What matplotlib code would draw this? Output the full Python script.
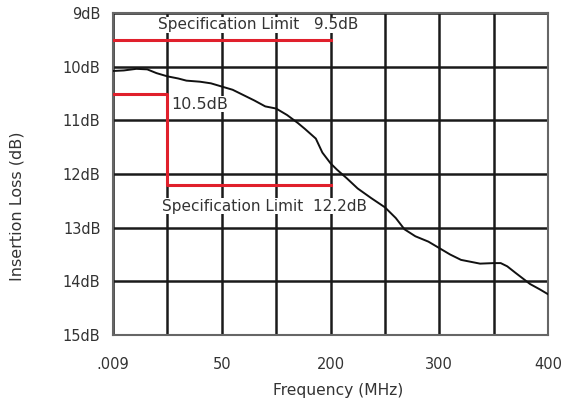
import matplotlib
matplotlib.use("Agg")
import matplotlib.pyplot as plt

# Data
x_tick_labels = [".009", "50", "200", "300", "400"]
x_tick_pos = [0, 2, 4, 6, 8]
y_ticks = [9, 10, 11, 12, 13, 14, 15]
y_tick_labels = ["9dB", "10dB", "11dB", "12dB", "13dB", "14dB", "15dB"]

curve_x = [0.0, 0.2, 0.43, 0.63, 0.8, 1.0, 1.2, 1.35, 1.6, 1.8, 2.0, 2.2, 2.4, 2.6, 2.8,
           3.0, 3.2, 3.4, 3.53, 3.73, 3.85, 4.0, 4.12, 4.3, 4.5, 4.75, 5.0, 5.2, 5.36,
           5.56, 5.8, 6.0, 6.2, 6.4, 6.6, 6.75, 7.0, 7.13, 7.25, 7.4, 7.67, 7.85, 8.0]
curve_y = [10.08, 10.07, 10.04, 10.05, 10.12, 10.18, 10.22, 10.26, 10.28, 10.31, 10.37,
           10.43, 10.53, 10.63, 10.74, 10.78, 10.9, 11.05, 11.16, 11.34, 11.6, 11.8,
           11.92, 12.08, 12.27, 12.45, 12.62, 12.82, 13.03, 13.16, 13.26, 13.38, 13.5,
           13.6, 13.64, 13.67, 13.66, 13.66, 13.72, 13.84, 14.05, 14.15, 14.24]

spec_upper_x = [0, 4]
spec_upper_y = [9.5, 9.5]
spec_lower_x = [0, 1, 1, 4]
spec_lower_y = [10.5, 10.5, 12.2, 12.2]

fig = plt.figure(figsize=(5.63, 4.03), dpi=100)
ax = fig.add_axes([0.2007, 0.1687, 0.7727, 0.799])

ax.set_xlim(0, 8)
ax.set_ylim(15, 9)

for gx in range(0, 9):
    ax.axvline(gx, color="#1a1a1a", lw=1.8, zorder=1)
for gy in y_ticks:
    ax.axhline(gy, color="#1a1a1a", lw=1.8, zorder=1)

ax.plot(curve_x, curve_y, color="#111111", lw=1.4, zorder=3)
ax.plot(spec_upper_x, spec_upper_y, color="#e0202c", lw=2.2, zorder=4)
ax.plot(spec_lower_x, spec_lower_y, color="#e0202c", lw=2.2, zorder=4)

txt_color = "#333333"
ax.text(0.82, 9.22, "Specification Limit   9.5dB", fontsize=11, color=txt_color,
        va="center", ha="left", zorder=5,
        bbox=dict(facecolor="white", edgecolor="none", pad=0.5))
ax.text(1.08, 10.7, "10.5dB", fontsize=11.5, color=txt_color, va="center", ha="left",
        zorder=5, bbox=dict(facecolor="white", edgecolor="none", pad=0.5))
ax.text(0.9, 12.6, "Specification Limit  12.2dB", fontsize=11, color=txt_color,
        va="center", ha="left", zorder=5,
        bbox=dict(facecolor="white", edgecolor="none", pad=0.5))

ax.set_xticks(x_tick_pos)
ax.set_xticklabels(x_tick_labels)
ax.set_yticks(y_ticks)
ax.set_yticklabels(y_tick_labels)
ax.tick_params(axis="both", length=0, labelsize=10.5, labelcolor=txt_color)
ax.tick_params(axis="y", pad=9)
ax.tick_params(axis="x", pad=16)

for s in ax.spines.values():
    s.set_color("#666666")
    s.set_linewidth(1.5)

ax.set_xlabel("Frequency (MHz)", fontsize=11.2, color=txt_color)
ax.set_ylabel("Insertion Loss (dB)", fontsize=11.5, color=txt_color)
ax.xaxis.label.set_va("center")
ax.xaxis.set_label_coords(0.517, -0.171)
ax.yaxis.label.set_va("center")
ax.yaxis.set_label_coords(-0.2207, 0.40)

fig.savefig("out.png", dpi=100)
